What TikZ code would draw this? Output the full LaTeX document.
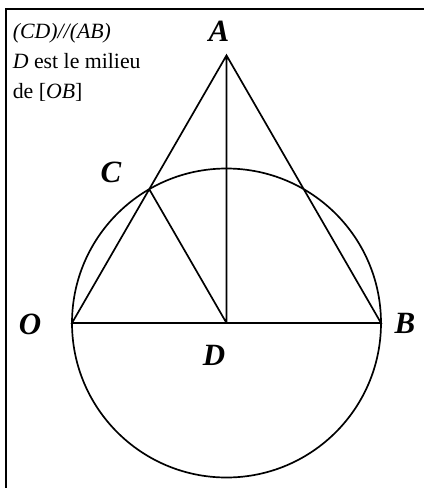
\documentclass[tikz,border=0pt]{standalone}
\usepackage{fontspec}
\setmainfont{Liberation Serif}
\tikzset{lbl/.style={font=\fontsize{22}{22}\selectfont\bfseries\itshape,inner sep=0pt},
  txt/.style={anchor=base west,inner sep=0pt}}
\begin{document}
\begin{tikzpicture}[x=.025cm,y=-.025cm,line width=1.2pt,font=\fontsize{15.5}{18}\selectfont]
\useasboundingbox (0,0) rectangle (424,488);
\coordinate (O) at (72,323);
\coordinate (B) at (381,323);
\coordinate (D) at (226.5,323);
\coordinate (A) at (226.5,55.4);
\coordinate (C) at (149.25,189.2);
\coordinate (fb) at (6,488);
\coordinate (fc) at (6,9);
\coordinate (fr) at (424,9);
\draw[line width=1.8pt] (fb)--(fc)--(fr);
\draw (O)--(A)--(B)--cycle (A)--(D) (C)--(D);
\draw (D) circle[radius=154.5];
\node[lbl] (lA) at (219,31) {A};
\node[lbl] (lB) at (405,323) {B};
\node[lbl] (lC) at (111,172) {C};
\node[lbl] (lD) at (214,355) {D};
\node[lbl] (lO) at (30,324) {O};
\node[txt] (t1) at (12,38) {\itshape (CD)//(AB)};
\node[txt] (t2) at (12,68) {\textit{D} est le milieu};
\node[txt] (t3) at (12,98) {de [\textit{OB}]};
\end{tikzpicture}
\end{document}
